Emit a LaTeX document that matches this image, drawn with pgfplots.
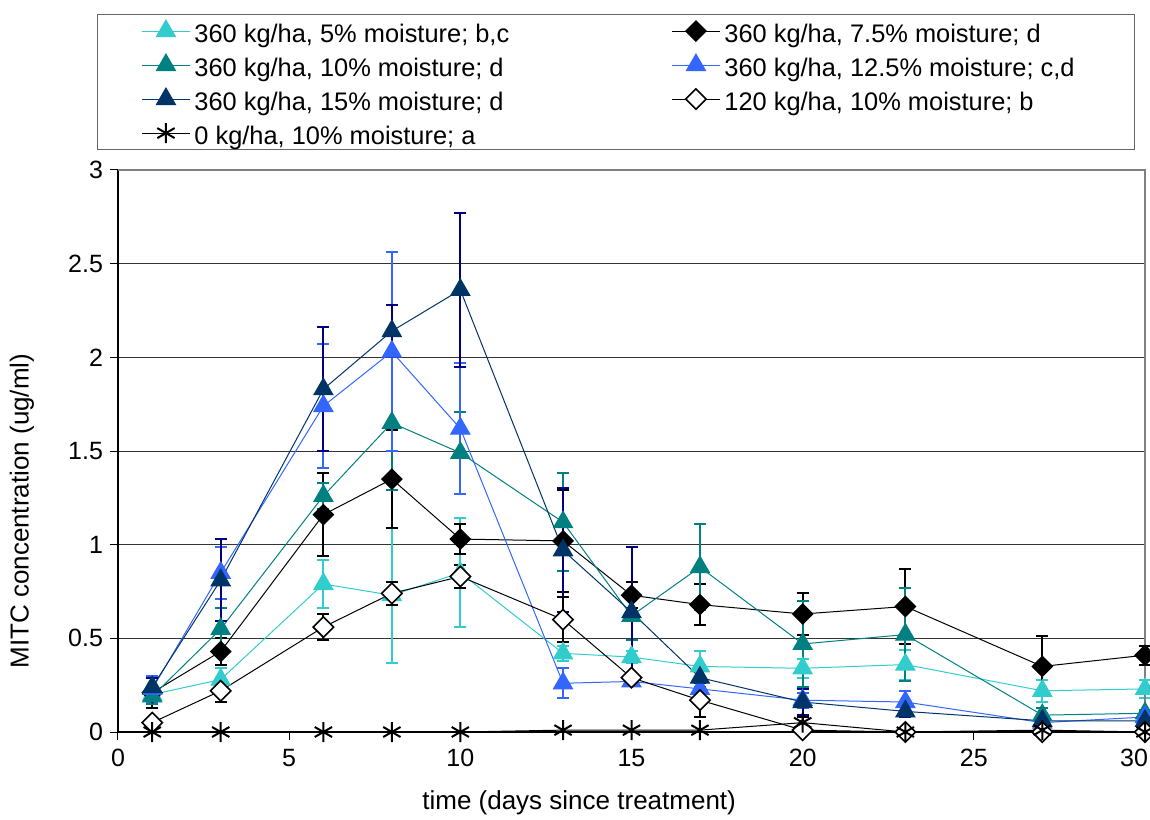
\documentclass[border=0pt]{standalone}
\usepackage{pgfplots}
\pgfplotsset{compat=1.18}
\usepackage{fontspec}
\setmainfont{Liberation Sans}
\definecolor{cyanA}{HTML}{33CCCC}
\definecolor{tealA}{HTML}{008080}
\definecolor{navyM}{HTML}{003366}
\definecolor{navyE}{HTML}{000080}
\definecolor{blueA}{HTML}{3366FF}
\pgfplotsset{
  ser/.style n args={3}{color=#1, line width=0.5pt, mark=#2, mark size=#3,
     mark options={solid, fill=#1}},
  eb/.style={error bars/.cd, y dir=both, y explicit,
     error bar style={line width=1pt, #1},
     error mark options={rotate=90, line width=1pt, mark size=3pt, #1}},
}
\begin{document}
\begin{tikzpicture}
\useasboundingbox (-59pt,-43.5pt) rectangle (516pt,366pt);
\begin{axis}[
  at={(0pt,0pt)}, anchor=south west,
  width=513.5pt, height=281pt, scale only axis,
  xmin=0, xmax=30, ymin=0, ymax=3,
  xtick={0,5,...,30}, ytick={0,0.5,1,1.5,2,2.5,3},
  xticklabels={0,5,10,15,20,25,\makebox[0pt][r]{30\kern-1.5pt}},
  axis lines*=left, axis line style={-, black, line width=0.6pt},
  tick align=outside, major tick length=4pt, tick style={black, line width=0.5pt},
  ymajorgrids, grid style={black!80, line width=0.5pt},
  /pgf/number format/assume math mode=true,
  ticklabel style={font=\fontsize{12.5}{15}\selectfont},
  yticklabel style={/pgf/number format/fixed},
  xticklabel style={yshift=-1pt},
  xlabel={time (days since treatment)}, ylabel={MITC concentration (ug/ml)},
  label style={font=\fontsize{13}{16}\selectfont},
  xlabel style={at={(axis description cs:0.449,-0.126)}, anchor=center},
  ylabel style={at={(axis description cs:-0.0935,0.393)}, anchor=center},
  clip=false,
  legend columns=2,
  legend cell align=left,
  legend style={at={(axis description cs:-0.0204,1.2776)}, anchor=north west,
     draw=black!60, inner xsep=22pt, inner ysep=0.75pt,
     font=\fontsize{12.7}{15}\selectfont, row sep=1.8pt,
     nodes={inner sep=2pt, text height=11.2pt, text depth=0pt}},
  legend image code/.code={\draw[mark repeat=2,mark phase=2] plot coordinates {(0pt,0pt) (12pt,0pt) (24pt,0pt)};},
]
% 360 kg/ha, 5% moisture
\addplot[ser={cyanA}{triangle*}{5.5pt}, eb=cyanA] table[x=x,y=y,y error=e] {
x y e
1 0.20 0.03
3 0.28 0.06
6 0.79 0.13
8 0.73 0.36
10 0.85 0.29
13 0.42 0.04
15 0.40 0.03
17 0.35 0.08
20 0.34 0.05
23 0.36 0.08
27 0.22 0.06
30 0.23 0.05
};
\addlegendentry{\makebox[236.5pt][l]{360 kg/ha, 5\% moisture; b,c}}
% 360 kg/ha, 7.5% moisture
\addplot[ser={black}{square*}{3.6pt}, mark options={rotate=45}, eb=black] table[x=x,y=y,y error=e] {
x y e
1 0.21 0.08
3 0.43 0.07
6 1.16 0.22
8 1.35 0.26
10 1.03 0.08
13 1.02 0.27
15 0.73 0.07
17 0.68 0.11
20 0.63 0.11
23 0.67 0.20
27 0.35 0.16
30 0.41 0.05
};
\addlegendentry{\makebox[181pt][l]{360 kg/ha, 7.5\% moisture; d}}
% 360 kg/ha, 10% moisture
\addplot[ser={tealA}{triangle*}{5.5pt}, eb=tealA] table[x=x,y=y,y error=e] {
x y e
1 0.19 0.04
3 0.55 0.11
6 1.26 0.07
8 1.65 0.36
10 1.49 0.22
13 1.12 0.26
15 0.62 0.13
17 0.88 0.23
20 0.47 0.23
23 0.52 0.25
27 0.09 0.04
30 0.10 0.02
};
\addlegendentry{\makebox[236.5pt][l]{360 kg/ha, 10\% moisture; d}}
% 360 kg/ha, 12.5% moisture
\addplot[ser={blueA}{triangle*}{5.5pt}, eb=blueA] table[x=x,y=y,y error=e] {
x y e
1 0.23 0.07
3 0.85 0.14
6 1.74 0.33
8 2.03 0.53
10 1.62 0.35
13 0.26 0.08
15 0.27 0.02
17 0.23 0.03
20 0.17 0.04
23 0.16 0.06
27 0.05 0.02
30 0.08 0.02
};
\addlegendentry{\makebox[181pt][l]{360 kg/ha, 12.5\% moisture; c,d}}
% 360 kg/ha, 15% moisture
\addplot[ser={navyM}{triangle*}{5.5pt}, eb=navyE] table[x=x,y=y,y error=e] {
x y e
1 0.24 0.05
3 0.81 0.22
6 1.83 0.33
8 2.14 0.14
10 2.36 0.41
13 0.97 0.33
15 0.64 0.35
17 0.29 0.05
20 0.16 0.07
23 0.11 0.03
27 0.06 0.02
30 0.06 0.02
};
\addlegendentry{\makebox[236.5pt][l]{360 kg/ha, 15\% moisture; d}}
% 120 kg/ha, 10% moisture
\addplot[color=black, line width=0.5pt, mark=square*, mark size=3.6pt,
   mark options={solid, rotate=45, fill=white, line width=0.8pt},
   error bars/.cd, y dir=both, y explicit,
   error bar style={line width=1pt, black},
   error mark options={rotate=90, line width=1pt, mark size=3pt, black}]
 table[x=x,y=y,y error plus=ep,y error minus=em] {
x y ep em
1 0.05 0.02 0.02
3 0.22 0.06 0.06
6 0.56 0.07 0.07
8 0.74 0.06 0.06
10 0.83 0.06 0.06
13 0.60 0.12 0.12
15 0.29 0.02 0.02
17 0.17 0.09 0.09
20 0.01 0.07 0.01
23 0.00 0.00 0.00
27 0.00 0.00 0.00
30 0.00 0.00 0.00
};
\addlegendentry{\makebox[181pt][l]{120 kg/ha, 10\% moisture; b}}
% 0 kg/ha, 10% moisture
\addplot[color=black, line width=0.5pt, mark=asterisk, mark size=5pt,
   mark options={solid, line width=1pt}] table[x=x,y=y] {
x y
1 0.00
3 0.00
6 0.00
8 0.00
10 0.00
13 0.01
15 0.01
17 0.01
20 0.05
23 0.00
27 0.01
30 0.00
};
\addlegendentry{\makebox[236.5pt][l]{0 kg/ha, 10\% moisture; a}}
\draw[black!50, line width=1pt] (rel axis cs:0,1) -- (rel axis cs:1,1) -- (rel axis cs:1,0);
\end{axis}
\end{tikzpicture}
\end{document}
